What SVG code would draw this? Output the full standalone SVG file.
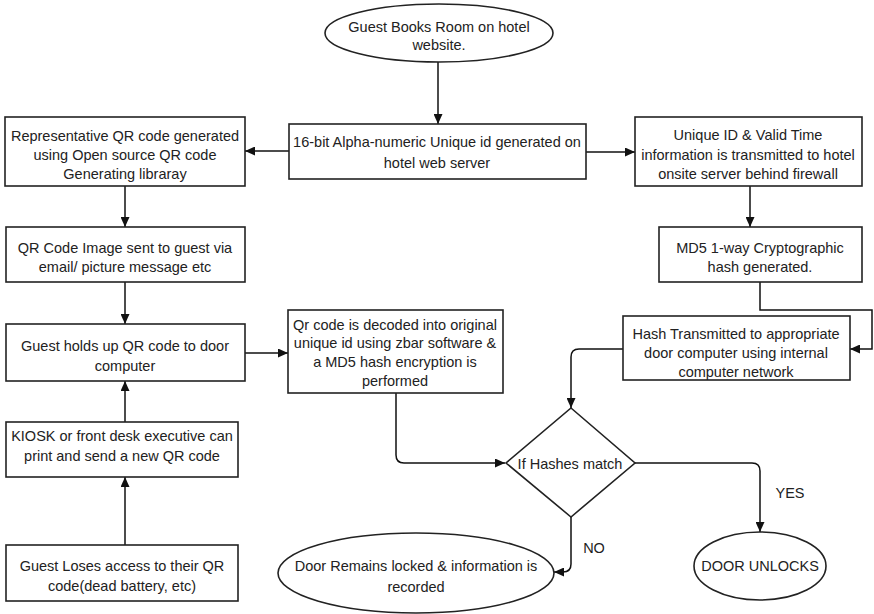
<svg xmlns="http://www.w3.org/2000/svg" width="874" height="614" viewBox="0 0 874 614">
<defs>
<marker id="arr" markerUnits="userSpaceOnUse" markerWidth="11" markerHeight="9" refX="10" refY="4.5" orient="auto">
<path d="M0,0 L10,4.5 L0,9 z" fill="#111"/>
</marker>
<style>
.n rect, .n ellipse, .n polygon { fill: #fff; stroke: #222; stroke-width: 1.6; }
.n text, .lbl { font-family: "Liberation Sans", Arial, sans-serif; font-size: 14.5px; fill: #222; text-anchor: middle; }
.c path { fill: none; stroke: #111; stroke-width: 1.5; marker-end: url(#arr); }
</style>
</defs>
<rect width="874" height="614" fill="#fff"/>
<g class="c" id="connectors">
<path d="M438,62 V124"/>
<path d="M289,151 H245"/>
<path d="M586,152 H635"/>
<path d="M750,186 V227"/>
<path d="M760,282 V310 H872 V349 H850"/>
<path d="M623,349 H579 Q571,349 571,357 V408"/>
<path d="M125,186 V227"/>
<path d="M125,282 V324"/>
<path d="M245,353 H288"/>
<path d="M396,393 V455 Q396,463 404,463 H505"/>
<path d="M125,422 V381"/>
<path d="M125,545 V477"/>
<path d="M635,463 H752 Q760,463 760,471 V532"/>
<path d="M571,517 V564 Q571,572 563,572 H554"/>
</g>
<text class="lbl" x="790" y="498">YES</text>
<text class="lbl" x="594" y="553">NO</text>
<g class="n" id="start">
<ellipse cx="439" cy="33" rx="114" ry="29"/>
<text x="439" y="32">Guest Books Room on hotel</text>
<text x="439" y="50">website.</text>
</g>
<g class="n" id="uid">
<rect x="289" y="124" width="297" height="55"/>
<text x="437" y="147">16-bit Alpha-numeric Unique id generated on</text>
<text x="437" y="168">hotel web server</text>
</g>
<g class="n" id="qrgen">
<rect x="5" y="117" width="240" height="69"/>
<text x="125" y="141">Representative QR code generated</text>
<text x="125" y="160">using Open source QR code</text>
<text x="125" y="179">Generating libraray</text>
</g>
<g class="n" id="transmit">
<rect x="635" y="117" width="227" height="69"/>
<text x="748" y="140">Unique ID &amp; Valid Time</text>
<text x="748" y="160">information is transmitted to hotel</text>
<text x="748" y="179">onsite server behind firewall</text>
</g>
<g class="n" id="md5">
<rect x="659" y="227" width="203" height="55"/>
<text x="760" y="253">MD5 1-way Cryptographic</text>
<text x="760" y="272">hash generated.</text>
</g>
<g class="n" id="qrimg">
<rect x="6" y="227" width="239" height="55"/>
<text x="125" y="253">QR Code Image sent to guest via</text>
<text x="125" y="272">email/ picture message etc</text>
</g>
<g class="n" id="holds">
<rect x="6" y="324" width="239" height="57"/>
<text x="125" y="351">Guest holds up QR code to door</text>
<text x="125" y="371">computer</text>
</g>
<g class="n" id="decode">
<rect x="288" y="310" width="215" height="83"/>
<text x="395" y="330">Qr code is decoded into original</text>
<text x="395" y="348">unique id using zbar software &amp;</text>
<text x="395" y="367">a MD5 hash encryption is</text>
<text x="395" y="386">performed</text>
</g>
<g class="n" id="hash">
<rect x="623" y="316" width="227" height="64"/>
<text x="736" y="339">Hash Transmitted to appropriate</text>
<text x="736" y="358">door computer using internal</text>
<text x="736" y="377">computer network</text>
</g>
<g class="n" id="match">
<polygon points="571,408 635,463 571,517 506,463"/>
<text x="570" y="469">If Hashes match</text>
</g>
<g class="n" id="kiosk">
<rect x="6" y="422" width="232" height="55"/>
<text x="122" y="441">KIOSK or front desk executive can</text>
<text x="122" y="461">print and send a new QR code</text>
</g>
<g class="n" id="loses">
<rect x="6" y="545" width="232" height="56"/>
<text x="122" y="571">Guest Loses access to their QR</text>
<text x="122" y="591">code(dead battery, etc)</text>
</g>
<g class="n" id="locked">
<ellipse cx="416" cy="573" rx="138" ry="40"/>
<text x="416" y="571">Door Remains locked &amp; information is</text>
<text x="416" y="592">recorded</text>
</g>
<g class="n" id="unlocks">
<ellipse cx="760" cy="566" rx="66" ry="34"/>
<text x="760" y="571">DOOR UNLOCKS</text>
</g>
</svg>
